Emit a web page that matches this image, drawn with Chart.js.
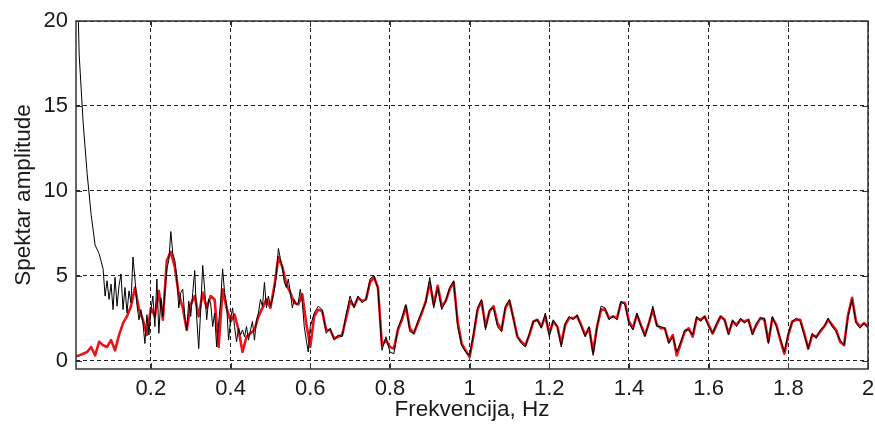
<!DOCTYPE html>
<html>
<head>
<meta charset="utf-8">
<script src="https://cdn.jsdelivr.net/npm/chart.js@4.4.1/dist/chart.umd.min.js"></script>
<style>
html,body{margin:0;padding:0;background:#fff;}
#wrap{width:875px;height:426px;position:relative;}
</style>
</head>
<body>
<div id="wrap"><canvas id="c" width="875" height="426"></canvas></div>
<script>
// Frequency grid of the red spectrum (Hz)
const freq = [
0.012,0.02,0.03,0.04,0.05,0.06,0.07,0.08,0.09,0.10,
0.11,0.12,0.13,0.14,0.15,0.16,0.17,0.18,0.19,0.20,
0.21,0.22,0.23,0.24,0.25,0.26,0.27,0.28,0.29,0.30,
0.31,0.32,0.33,0.34,0.35,0.36,0.37,0.38,0.39,0.40,
0.41,0.42,0.43,0.44,0.45,0.46,0.47,0.48,0.49,0.50,
0.51,0.52,0.53,0.54,0.55,0.56,0.57,0.58,0.59,0.60,
0.61,0.62,0.63,0.64,0.65,0.66,0.67,0.68,0.69,0.70,
0.71,0.72,0.73,0.74,0.75,0.76,0.77,0.78,0.79,0.80,
0.81,0.82,0.83,0.84,0.85,0.86,0.87,0.88,0.89,0.90,
0.91,0.92,0.93,0.94,0.95,0.96,0.97,0.98,0.99,1.00,
1.01,1.02,1.03,1.04,1.05,1.06,1.07,1.08,1.09,1.10,
1.11,1.12,1.13,1.14,1.15,1.16,1.17,1.18,1.19,1.20,
1.21,1.22,1.23,1.24,1.25,1.26,1.27,1.28,1.29,1.30,
1.31,1.32,1.33,1.34,1.35,1.36,1.37,1.38,1.39,1.40,
1.41,1.42,1.43,1.44,1.45,1.46,1.47,1.48,1.49,1.50,
1.51,1.52,1.53,1.54,1.55,1.56,1.57,1.58,1.59,1.60,
1.61,1.62,1.63,1.64,1.65,1.66,1.67,1.68,1.69,1.70,
1.71,1.72,1.73,1.74,1.75,1.76,1.77,1.78,1.79,1.80,
1.81,1.82,1.83,1.84,1.85,1.86,1.87,1.88,1.89,1.90,
1.91,1.92,1.93,1.94,1.95,1.96,1.97,1.98,1.99,2.00
];

// Red (thick) spectrum
const spectrumRed = [
0.25,0.3,0.4,0.5,0.8,0.3,1.1,0.9,0.8,1.2,
0.6,1.5,2.2,2.6,3.2,4.3,3.0,2.4,1.5,3.1,
2.6,4.1,2.4,5.9,6.4,5.5,3.9,3.1,1.8,3.3,
3.8,2.6,4.0,3.1,3.8,3.6,0.8,4.2,3.1,2.3,
2.7,1.8,0.5,1.4,1.6,1.8,2.6,3.1,3.6,3.1,
4.4,6.1,5.5,4.5,4.0,3.4,3.3,3.9,2.2,0.8,
2.6,3.0,2.9,1.8,1.8,1.3,1.4,1.5,2.5,3.5,
3.2,3.7,3.5,3.6,4.6,4.9,4.3,0.9,1.2,0.8,
0.7,1.8,2.4,3.2,1.9,1.6,2.2,2.8,3.5,4.6,
3.3,4.4,3.2,3.5,4.2,4.6,2.3,1.0,0.6,0.2,
1.5,3.0,3.5,2.0,2.9,3.2,2.2,1.8,3.1,3.5,
2.5,1.4,1.1,0.9,1.5,2.3,2.4,2.0,2.6,1.6,
2.3,2.0,1.0,2.1,2.5,2.5,2.6,2.1,1.5,1.9,
0.5,2.0,3.0,3.0,2.5,2.6,2.5,3.4,3.4,2.3,
1.9,2.7,2.1,1.5,2.2,3.0,2.1,1.9,1.9,1.1,
1.5,0.3,1.0,1.7,1.9,1.4,2.5,2.4,2.6,2.1,
1.6,2.1,2.6,2.4,1.6,2.3,2.1,2.4,2.3,2.4,
1.6,2.1,2.5,2.4,1.1,2.5,2.1,1.2,0.4,1.5,
2.3,2.4,2.4,1.6,0.7,1.5,1.4,1.7,2.0,2.4,
2.1,1.8,1.1,0.9,2.7,3.7,2.3,2.0,2.2,2.0
];

// Frequency grid of the black spectrum (Hz) - finer where it is most jagged
const freqBlack = [
0.012,0.02,0.03,0.04,0.05,0.06,0.07,
0.080,0.085,0.090,0.095,0.100,0.105,0.110,0.115,0.120,0.125,
0.130,0.135,0.140,0.145,0.150,0.155,0.160,0.165,0.170,0.175,
0.180,0.185,0.190,0.195,0.200,0.205,0.210,0.215,0.220,0.225,
0.230,0.235,0.240,0.245,0.250,0.255,0.260,0.265,0.270,0.275,
0.280,0.285,0.290,0.295,0.300,0.305,0.310,0.315,0.320,0.325,
0.330,0.335,0.340,0.345,0.350,0.355,0.360,0.365,0.370,0.375,
0.380,0.385,0.390,0.395,0.400,0.405,0.410,0.415,0.420,0.425,
0.430,0.435,0.440,0.445,0.450,0.455,0.460,0.465,0.470,0.475,
0.480,0.485,0.490,0.495,0.500,0.505,0.510,0.515,0.520,0.525,
0.530,0.535,0.540,0.545,0.550,0.555,0.560,0.565,0.570,0.575,
0.580,0.585,0.590,0.595,0.600,
0.61,0.62,0.63,0.64,0.65,0.66,0.67,0.68,0.69,0.70,
0.71,0.72,0.73,0.74,0.75,0.76,0.77,0.78,0.79,0.80,
0.81,0.82,0.83,0.84,0.85,0.86,0.87,0.88,0.89,0.90,
0.91,0.92,0.93,0.94,0.95,0.96,0.97,0.98,0.99,1.00,
1.01,1.02,1.03,1.04,1.05,1.06,1.07,1.08,1.09,1.10,
1.11,1.12,1.13,1.14,1.15,1.16,1.17,1.18,1.19,1.20,
1.21,1.22,1.23,1.24,1.25,1.26,1.27,1.28,1.29,1.30,
1.31,1.32,1.33,1.34,1.35,1.36,1.37,1.38,1.39,1.40,
1.41,1.42,1.43,1.44,1.45,1.46,1.47,1.48,1.49,1.50,
1.51,1.52,1.53,1.54,1.55,1.56,1.57,1.58,1.59,1.60,
1.61,1.62,1.63,1.64,1.65,1.66,1.67,1.68,1.69,1.70,
1.71,1.72,1.73,1.74,1.75,1.76,1.77,1.78,1.79,1.80,
1.81,1.82,1.83,1.84,1.85,1.86,1.87,1.88,1.89,1.90,
1.91,1.92,1.93,1.94,1.95,1.96,1.97,1.98,1.99,2.00
];

// Black (thin) spectrum
const spectrumBlack = [
26,18,14,11,8.6,6.8,6.3,
5.4,3.8,4.7,3.6,4.5,3.0,4.9,3.2,4.4,5.1,
3.0,4.3,2.8,4.1,3.4,6.1,4.8,3.3,2.4,3.0,
2.2,1.0,2.7,1.5,3.0,3.8,2.0,4.8,1.6,3.7,
2.6,4.0,5.4,5.9,7.6,6.3,5.9,4.9,3.1,4.0,
4.2,2.6,1.8,3.5,2.6,4.0,5.3,2.5,0.7,3.0,
5.6,4.2,2.4,3.6,3.4,2.0,2.8,0.8,2.2,3.5,
5.4,4.0,3.3,1.2,2.4,3.1,2.0,1.1,1.9,1.5,
1.8,1.4,2.0,1.2,1.8,2.3,1.2,2.4,2.8,3.6,
3.2,4.6,3.1,3.8,3.2,3.6,4.2,5.0,6.6,6.0,
5.5,4.6,4.3,4.8,4.0,3.1,3.6,3.3,3.4,4.2,
3.4,2.0,1.2,0.5,2.0,
2.8,3.2,3.0,1.6,1.9,1.2,1.5,1.4,2.7,3.8,
3.1,3.8,3.4,3.6,4.8,5.0,4.2,0.6,1.4,0.5,
0.4,1.9,2.5,3.3,1.7,1.6,2.3,2.9,3.4,4.9,
3.1,4.3,3.0,3.5,4.3,4.7,2.0,0.9,0.5,0.3,
1.6,3.1,3.6,1.8,3.0,3.1,2.0,1.7,3.2,3.6,
2.4,1.4,1.0,0.8,1.6,2.3,2.4,1.9,2.8,1.4,
2.4,2.0,0.8,2.2,2.6,2.4,2.7,2.0,1.4,2.0,
0.3,2.0,3.2,3.1,2.4,2.6,2.4,3.5,3.3,2.2,
1.8,2.8,2.0,1.4,2.2,3.2,2.0,2.0,1.9,1.0,
1.4,0.5,1.1,1.8,1.8,1.5,2.6,2.3,2.6,2.0,
1.6,2.2,2.6,2.4,1.5,2.4,2.0,2.5,2.2,2.4,
1.5,2.2,2.5,2.5,1.0,2.6,2.0,1.3,0.5,1.6,
2.3,2.5,2.3,1.5,0.7,1.6,1.3,1.8,2.0,2.5,
2.0,1.7,1.2,0.9,2.6,3.6,2.2,1.9,2.2,1.9
];

const xTicks = [0.2,0.4,0.6,0.8,1.0,1.2,1.4,1.6,1.8,2.0];
const xTickLabels = ['0.2','0.4','0.6','0.8','1','1.2','1.4','1.6','1.8','2'];
const yTicks = [0,5,10,15,20];
const xTitle = 'Frekvencija, Hz';
const yTitle = 'Spektar amplitude';

const FONT = "'Liberation Sans', Arial, sans-serif";
const TXT = '#1a1a1a';

const toXY = (xs, ys) => xs.map((f, i) => ({x: f, y: ys[i]}));

const frameTicks = {
  id: 'frameTicks',
  afterDatasetsDraw(chart) {
    const {ctx, chartArea: a, scales: {x, y}} = chart;
    ctx.save();
    ctx.strokeStyle = '#333';
    ctx.lineWidth = 1;
    const L = 6;
    ctx.beginPath();
    xTicks.forEach(v => {
      const px = Math.round(x.getPixelForValue(v)) + 0.5;
      ctx.moveTo(px, a.bottom); ctx.lineTo(px, a.bottom - L);
      ctx.moveTo(px, a.top); ctx.lineTo(px, a.top + L);
    });
    yTicks.forEach(v => {
      const py = Math.round(y.getPixelForValue(v)) + 0.5;
      ctx.moveTo(a.left, py); ctx.lineTo(a.left + L, py);
      ctx.moveTo(a.right, py); ctx.lineTo(a.right - L, py);
    });
    ctx.stroke();
    ctx.lineWidth = 1.5;
    ctx.strokeStyle = '#333';
    ctx.strokeRect(a.left, a.top, a.right - a.left, a.bottom - a.top);
    ctx.restore();
  }
};

new Chart(document.getElementById('c'), {
  type: 'line',
  data: {
    datasets: [
      { label: 'black', data: toXY(freqBlack, spectrumBlack), borderColor: '#000', borderWidth: 1, pointRadius: 0, tension: 0, fill: false },
      { label: 'red', data: toXY(freq, spectrumRed), borderColor: '#e8141a', borderWidth: 2.6, pointRadius: 0, tension: 0, fill: false, borderJoinStyle: 'round' }
    ]
  },
  options: {
    responsive: false,
    animation: false,
    events: [],
    layout: { padding: { left: 0, right: 7, top: 21, bottom: 0 } },
    plugins: { legend: { display: false }, tooltip: { enabled: false } },
    scales: {
      x: {
        type: 'linear', min: 0.012, max: 2,
        afterBuildTicks: (s) => { s.ticks = xTicks.map(v => ({value: v})); },
        afterFit: (s) => { s.height = 57; s.paddingLeft = 0; s.paddingRight = 0; },
        ticks: {
          autoSkip: false, maxRotation: 0, padding: 7, color: TXT,
          font: { family: FONT, size: 22 },
          callback: (v) => { const i = xTicks.indexOf(v); return i >= 0 ? xTickLabels[i] : ''; }
        },
        grid: { color: '#222', lineWidth: 1, drawTicks: false },
        border: { display: false, dash: [4, 3] },
        title: { display: true, text: xTitle, color: TXT, font: { family: FONT, size: 22.5 }, padding: { top: 0, bottom: 3 } }
      },
      y: {
        type: 'linear', min: -0.5, max: 20,
        afterBuildTicks: (s) => { s.ticks = yTicks.map(v => ({value: v})); },
        afterFit: (s) => { s.width = 76; s.paddingTop = 0; s.paddingBottom = 0; },
        ticks: { padding: 8, color: TXT, font: { family: FONT, size: 22 } },
        grid: { color: '#222', lineWidth: 1, drawTicks: false },
        border: { display: false, dash: [4, 3] },
        title: { display: true, text: yTitle, color: TXT, font: { family: FONT, size: 22.5 }, padding: { top: 10, bottom: 0 } }
      }
    }
  },
  plugins: [frameTicks]
});
</script>
</body>
</html>
